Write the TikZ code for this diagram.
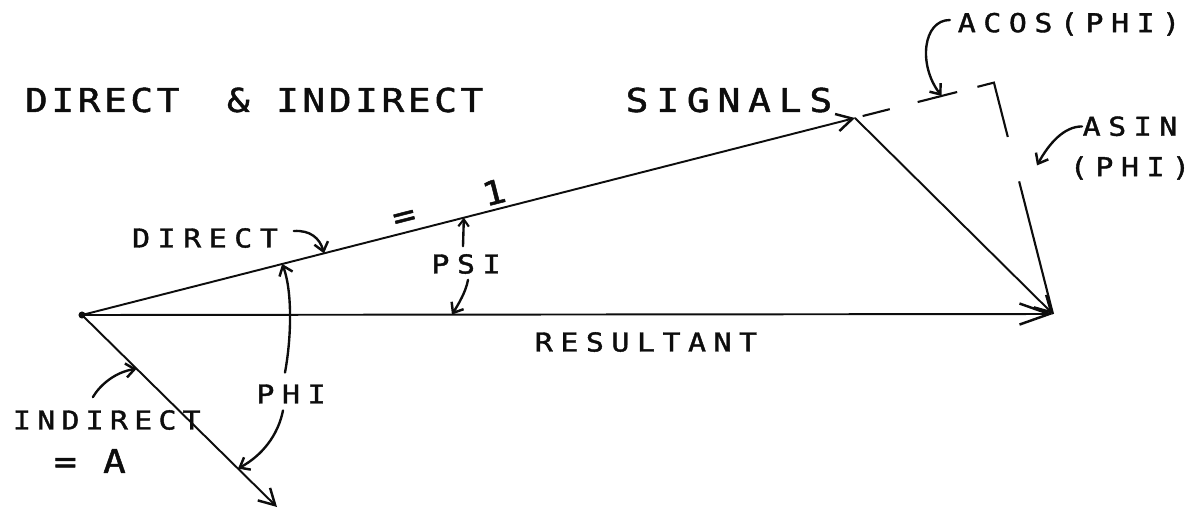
\documentclass[tikz,border=0pt]{standalone}
\usepackage{fontspec}
\usetikzlibrary{arrows.meta,calc}
\newfontfamily\plottitlefont{DejaVu Sans Mono}[FakeStretch=1.15, FakeBold=1.5, LetterSpace=11]
\newfontfamily\plotlabelfont{DejaVu Sans Mono}[FakeStretch=1.15, FakeBold=1.5, LetterSpace=29]
\definecolor{PhasorInk}{gray}{0.05}
\tikzset{
    phasor/diagram/.style={
        draw=PhasorInk,
        text=PhasorInk,
        line width=1.1pt,
        line cap=round,
        line join=round,
        every node/.style={inner sep=0pt, outer sep=0pt}
    },
    phasor/vector/.style={
        draw=PhasorInk, line width=1.1pt,
        -{Straight Barb[length=9pt, width=10pt, line width=1.4pt]}
    },
    phasor/pointer/.style={
        draw=PhasorInk, line width=1.35pt,
        -{Straight Barb[length=5pt, width=8pt, line width=1.4pt]}
    },
    phasor/projection/.style={
        draw=PhasorInk, line width=1.2pt, line cap=butt, line join=miter
    },
    phasor/title/.style={font=\plottitlefont\fontsize{18.7}{22}\selectfont},
    phasor/label/.style={font=\plotlabelfont\fontsize{14.8}{23}\selectfont}
}

\begin{document}
\begin{tikzpicture}[phasor/diagram, x=0.02cm, y=-0.02cm]
    \useasboundingbox (0,0) rectangle (1201,511);
    \coordinate (O) at (82,315);
    \coordinate (D) at (855,118);
    \coordinate (R) at (1053,314);
    \coordinate (I) at (277,507);
    \coordinate (F) at ($(O)!(R)!(D)$);
    % the two signals, their sum, and the closing side
    \draw[phasor/vector] (O) -- (D);
    \draw[phasor/vector, -{Straight Barb[length=17pt, width=12pt, line width=1.4pt]}]
        (O) -- (R);
    \draw[phasor/vector] (O) -- (I);
    \draw[phasor/vector] (D) -- (R);
    \fill[PhasorInk] (O) circle (2pt);
    % resultant split along and across the direct signal
    \draw[phasor/projection,
        dash pattern=on 0pt off 4.5pt on 15.9pt off 16.4pt on 23.2pt off 11.9pt
            on 41.6pt off 26.1pt on 80pt]
        (D) -- (F) -- (R);
    \node[phasor/title, anchor=west] (title) at (25,100)
        {DIRECT\hspace{12pt} \& INDIRECT\hspace{81pt}\addfontfeature{LetterSpace=24}SIGNALS};
    \node[phasor/label] (directlbl) at (205,238) {DIRECT};
    \node[phasor/label] (resultlbl) at (646,342) {RESULTANT};
    \node[phasor/label] (psilbl) at (466,264) {PSI};
    \node[phasor/label] (philbl) at (291,394) {PHI};
    \node[phasor/label, anchor=west] (indirectlbl) at (13,420)
        {\addfontfeature{LetterSpace=24}INDIRECT};
    \node[phasor/title, anchor=west] (amplbl) at (54,461) {= A};
    \node[phasor/label] (acoslbl) at (1069,24) {ACOS(PHI)};
    \node[phasor/label, align=center] (asinlbl) at (1130,148) {ASIN\\(PHI)};
    \path (O) -- (D) node[phasor/title, pos=0.48, sloped, above=3pt] (unitlbl)
        {=\hspace{40pt}1};
    % pointers from the labels
    \draw[phasor/pointer] ($(directlbl.east)+(16,-7)$)
        .. controls ($(directlbl.east)+(32,-8)$) and ($(directlbl.east)+(42,0)$)
        .. ($(O)!0.313!(D)$);
    \draw[phasor/pointer, -{Straight Barb[length=4pt, width=6pt, line width=1.2pt]}]
        ($(psilbl.north)+(-3,-8)$) -- ($(O)!0.494!(D)$);
    \draw[phasor/pointer] ($(psilbl.south)+(2,6)$)
        .. controls ($(psilbl.south)+(0,18)$) and ($(psilbl.south)+(-8,31)$)
        .. ($(O)!0.381!(R)$);
    \draw[phasor/pointer] ($(philbl.north)+(-6,-12)$)
        .. controls ($(philbl.north)+(1,-50)$) and ($(philbl.north)+(1,-95)$)
        .. ($(O)!0.259!(D)$);
    \draw[phasor/pointer] ($(philbl.south)+(-8,7)$)
        .. controls ($(philbl.south)+(-13,32)$) and ($(philbl.south)+(-29,52)$)
        .. ($(O)!0.8!(I)$);
    \draw[phasor/pointer] ($(indirectlbl.north)+(-14,-13)$)
        .. controls ($(indirectlbl.north)+(-7,-25)$) and ($(indirectlbl.north)+(8,-38)$)
        .. ($(O)!0.28!(I)$);
    \draw[phasor/pointer] ($(acoslbl.west)+(-8,-4)$)
        .. controls ($(acoslbl.west)+(-35,-4)$) and ($(acoslbl.west)+(-40,41)$)
        .. ($(O)!1.112!(D)$);
    \draw[phasor/pointer] ($(asinlbl.north)+(-48,10)$)
        .. controls ($(asinlbl.north)+(-66,10)$) and ($(asinlbl.north)+(-81,27)$)
        .. ($(asinlbl.north)+(-93,49)$);
\end{tikzpicture}
\end{document}
